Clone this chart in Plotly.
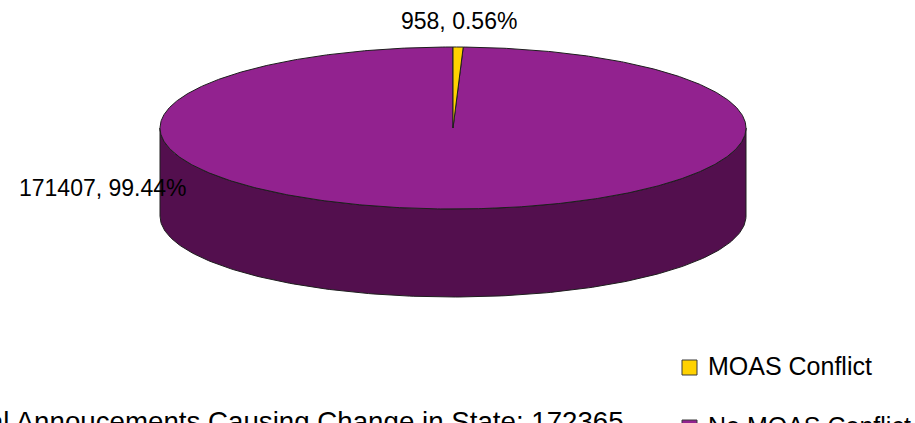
import numpy as np
import plotly.graph_objects as go

# Announcement counts by MOAS state
categories = ["MOAS Conflict", "No MOAS Conflict"]
counts = [958, 171407]
top_colors = ["#FFD200", "#92228F"]
side_colors = ["#8A7200", "#530F4E"]

total = sum(counts)
percents = [c / total * 100 for c in counts]

W, H = 915, 423

# Projected (tilted) pie geometry, in plot units
CX, CY = 453, 128      # centre of the top face
RX, RY = 293, 81       # semi-axes of the top ellipse
DEPTH = 88             # thickness of the pie
EDGE = "#1E1E1E"


def rim(t0, t1, n=200, dy=0.0):
    """Points on the ellipse rim between angles t0..t1 (degrees, clockwise from 12 o'clock)."""
    t = np.radians(np.linspace(t0, t1, max(n, 2)))
    return CX + RX * np.sin(t), CY - RY * np.cos(t) + dy


def py(v):
    """Pixel row from the top -> paper fraction."""
    return 1 - v / H


# slice angle ranges from the data
bounds = np.concatenate([[0], np.cumsum(percents) * 3.6])
slices = [(bounds[i], bounds[i + 1]) for i in range(len(counts))]

fig = go.Figure()

# side walls: only the front half (90..270 deg) is visible
for (t0, t1), col in zip(slices, side_colors):
    a, b = max(t0, 90), min(t1, 270)
    if b <= a:
        continue
    xs, ys = rim(a, b)
    xb, yb = rim(a, b, dy=DEPTH)
    fig.add_trace(go.Scatter(
        x=np.concatenate([xs, xb[::-1], xs[:1]]),
        y=np.concatenate([ys, yb[::-1], ys[:1]]),
        mode="lines", fill="toself", fillcolor=col,
        line=dict(color=EDGE, width=1), hoverinfo="skip", showlegend=False))

# top faces, widest slice first so thin slices stay on top
order = sorted(range(len(counts)), key=lambda i: -counts[i])
for i in order:
    t0, t1 = slices[i]
    n = int(max(4, (t1 - t0) * 2))
    xs, ys = rim(t0, t1, n=n)
    fig.add_trace(go.Scatter(
        x=np.concatenate([[CX], xs, [CX]]),
        y=np.concatenate([[CY], ys, [CY]]),
        mode="lines", fill="toself", fillcolor=top_colors[i],
        line=dict(color=EDGE, width=1),
        name=categories[i], hoverinfo="name", showlegend=False))

FONT = "Liberation Sans, Arial, sans-serif"

# data labels
label_pos = [(459, 21, "center"), (17, 188, "left")]
for c, p, (lx, ly, anchor) in zip(counts, percents, label_pos):
    fig.add_annotation(x=lx, y=ly, xref="x", yref="y", text=f"{c}, {p:.2f}%",
                       showarrow=False, xanchor=anchor, yanchor="middle",
                       font=dict(family=FONT, size=23, color="#000000"))

# total line beneath the pie
fig.add_annotation(x=626 / W, y=py(421), xref="paper", yref="paper",
                   text=f"Total Annoucements Causing Change in State: {total}",
                   showarrow=False, xanchor="right", yanchor="middle",
                   font=dict(family=FONT, size=27.7, color="#000000"))

# key: coloured squares with category names
KEY_X, KEY_Y0, KEY_STEP, KEY_SIZE = 682, 360, 60, 15
for i, name in enumerate(categories):
    ky = KEY_Y0 + i * KEY_STEP
    fig.add_shape(type="rect", xref="paper", yref="paper",
                  x0=KEY_X / W, x1=(KEY_X + KEY_SIZE) / W,
                  y0=py(ky), y1=py(ky + KEY_SIZE),
                  fillcolor=top_colors[i], line=dict(color="#3A3A3A", width=1))
    fig.add_annotation(x=(KEY_X + KEY_SIZE + 9) / W, y=py(ky + KEY_SIZE / 2 - 2),
                       xref="paper", yref="paper", text=name, showarrow=False,
                       xanchor="left", yanchor="middle",
                       font=dict(family=FONT, size=25, color="#000000"))

fig.update_layout(
    width=W, height=H,
    margin=dict(l=0, r=0, t=0, b=0),
    paper_bgcolor="white", plot_bgcolor="white",
    xaxis=dict(range=[0, W], visible=False, fixedrange=True),
    yaxis=dict(range=[H, 0], visible=False, fixedrange=True),
    showlegend=False,
)

fig.write_html("out.html")
